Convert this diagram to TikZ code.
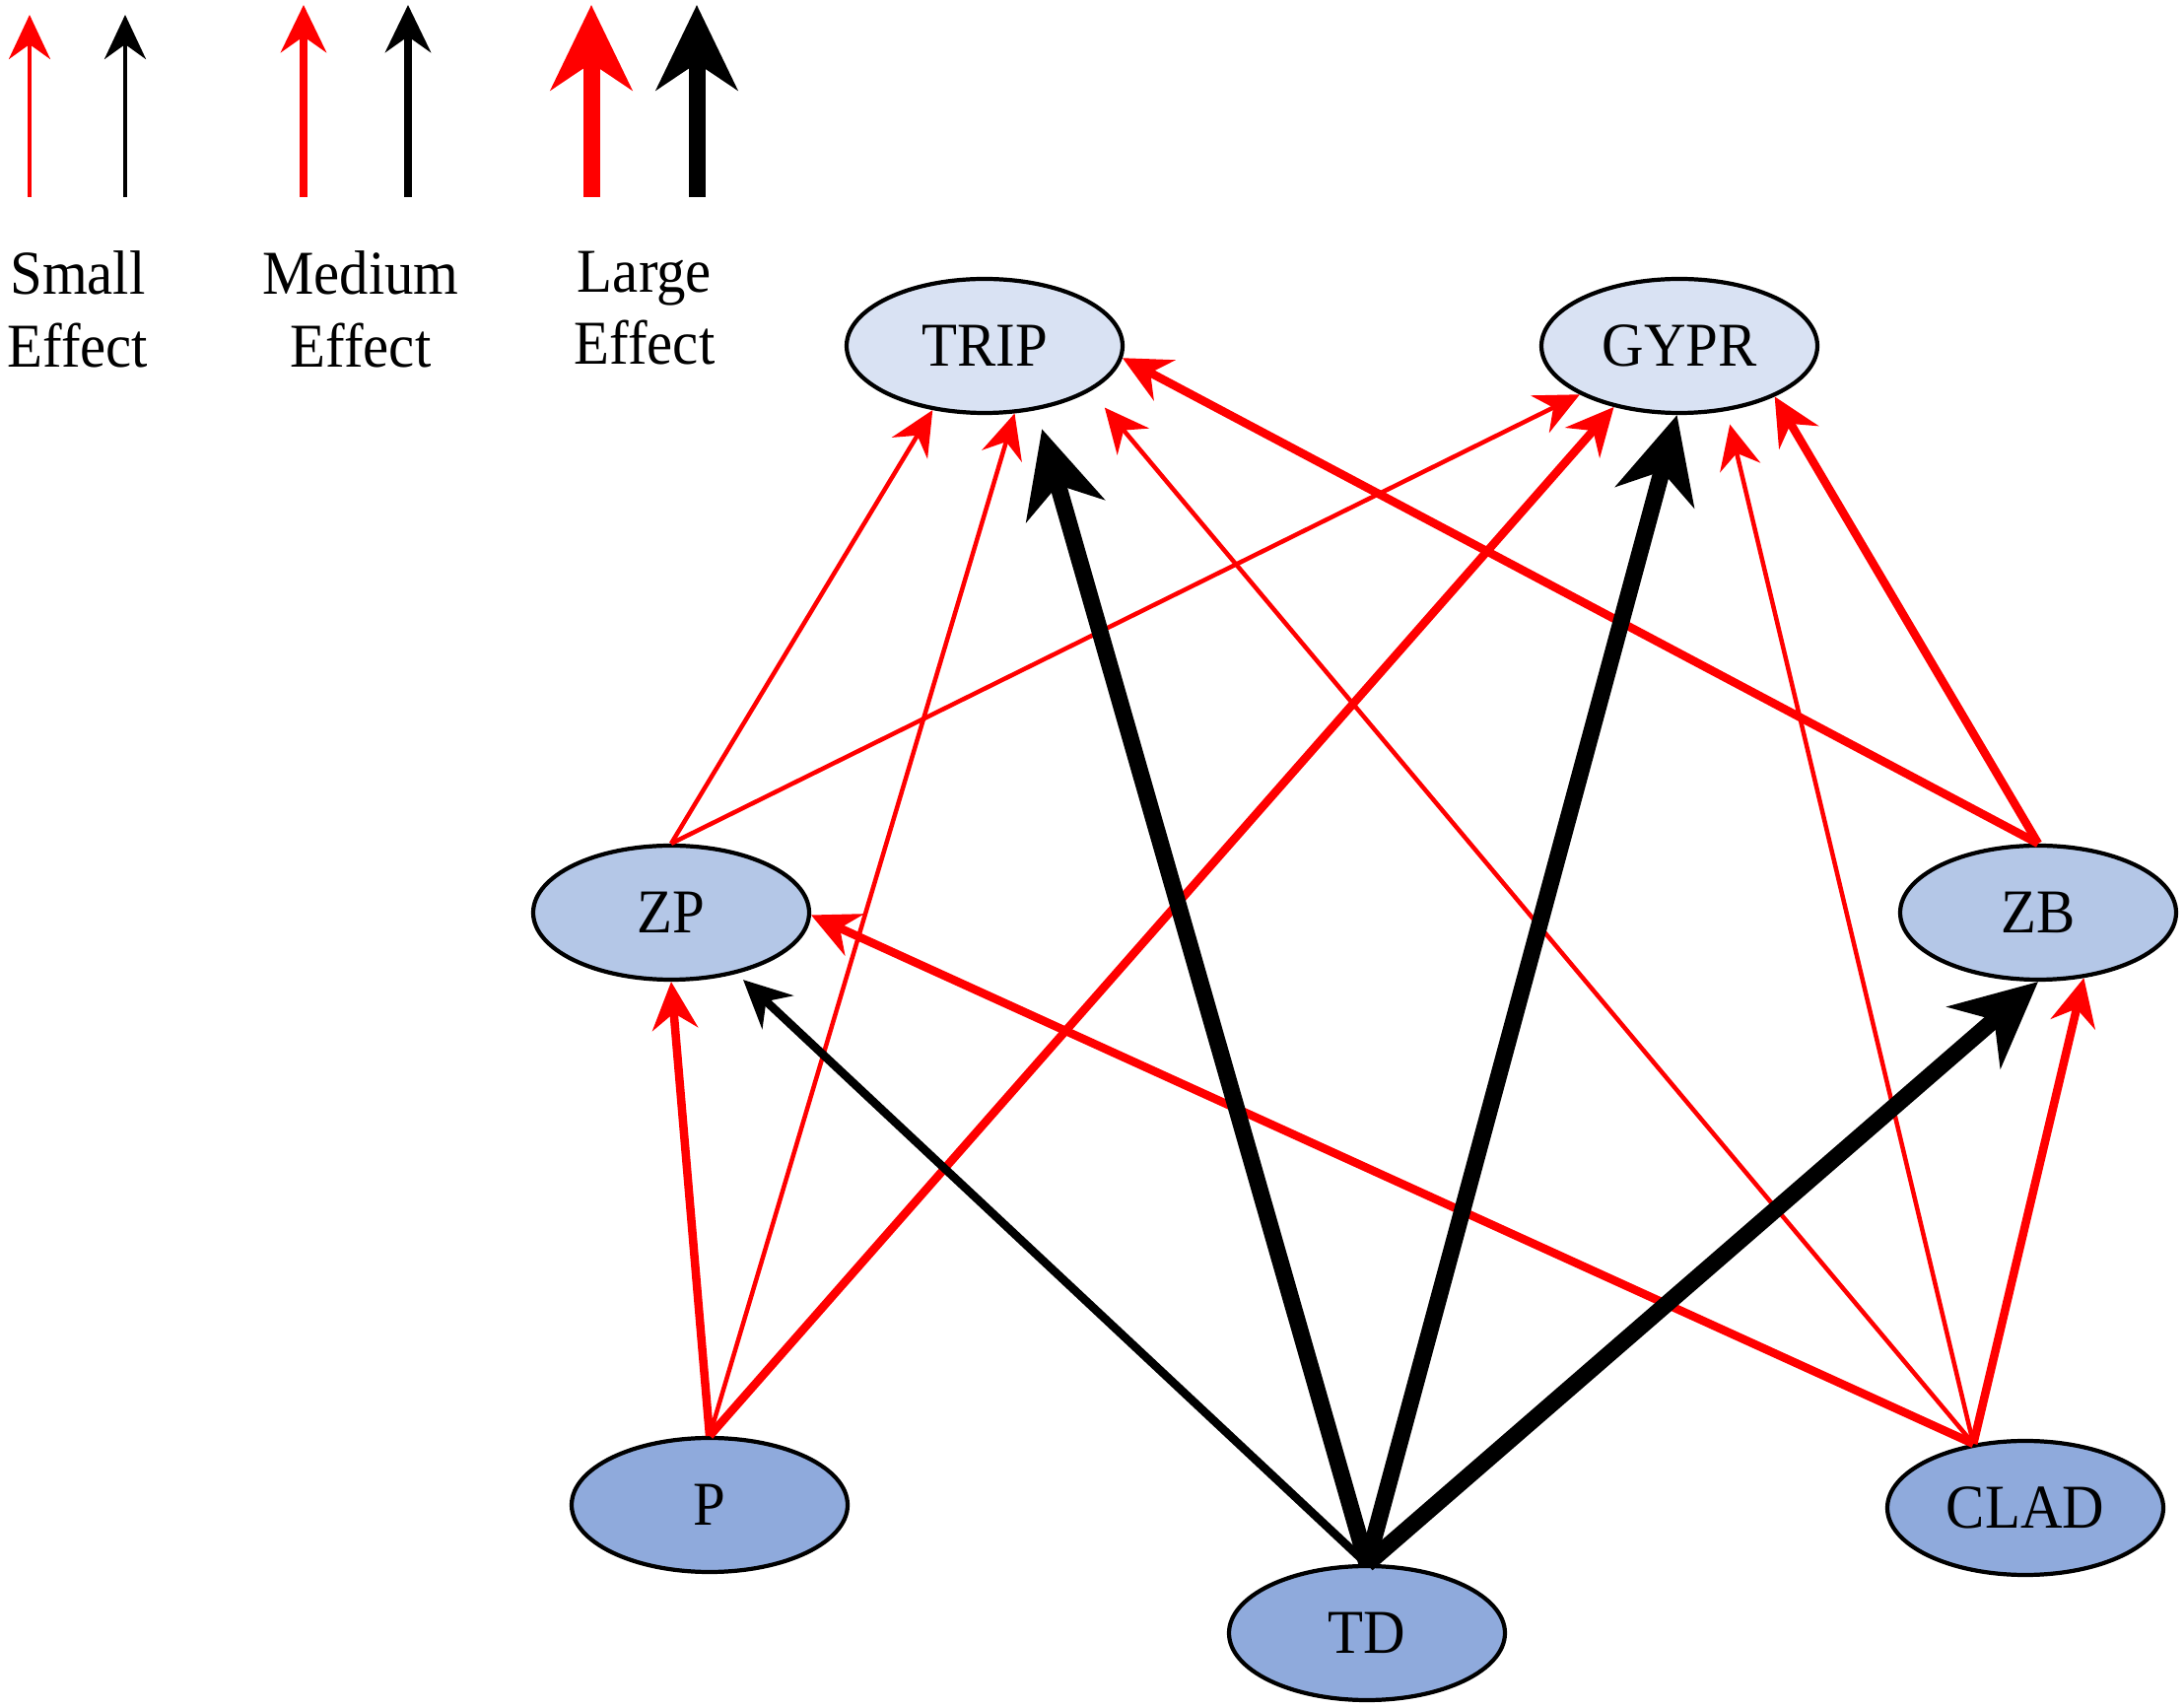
\documentclass[tikz,border=0pt]{standalone}
\usepackage{fontspec}
\setmainfont{Liberation Serif}[FakeStretch=0.93]
\usetikzlibrary{arrows.meta}
\usetikzlibrary{shapes.geometric}

\definecolor{nodetop}{RGB}{217,226,243}
\definecolor{nodemid}{RGB}{180,199,231}
\definecolor{nodebot}{RGB}{143,170,220}

\begin{document}
\begin{tikzpicture}[
    font=\fontsize{18}{21}\selectfont,
    var/.style={ellipse, draw, line width=1.2pt, minimum width=2.8cm,
      minimum height=1.36cm, inner sep=0pt},
    effsmall/.style={line width=0.045cm,
      -{Stealth[length=0.45cm,width=0.42cm,inset=0.15cm]}},
    effmedium/.style={line width=0.085cm,
      -{Stealth[length=0.48cm,width=0.46cm,inset=0.16cm]}},
    efflarge/.style={line width=0.17cm,
      -{Stealth[length=0.86cm,width=0.82cm,inset=0.27cm]}},
    legtext/.style={anchor=north, align=center, inner sep=0pt}]
    \useasboundingbox (0,0) rectangle (22.16,-17.33);

    % legend
    \coordinate (sr0) at (0.30,-2.00); \coordinate (sr1) at (0.30,-0.15);
    \coordinate (sb0) at (1.27,-2.00); \coordinate (sb1) at (1.27,-0.15);
    \coordinate (mr0) at (3.08,-2.00); \coordinate (mr1) at (3.08,-0.05);
    \coordinate (mb0) at (4.14,-2.00); \coordinate (mb1) at (4.14,-0.05);
    \coordinate (lr0) at (6.00,-2.00); \coordinate (lr1) at (6.00,-0.05);
    \coordinate (lb0) at (7.07,-2.00); \coordinate (lb1) at (7.07,-0.05);
    \draw [effsmall,red] (sr0) -- (sr1);
    \draw [effsmall] (sb0) -- (sb1);
    \draw [effmedium,red] (mr0) -- (mr1);
    \draw [effmedium] (mb0) -- (mb1);
    \draw [efflarge,red] (lr0) -- (lr1);
    \draw [efflarge] (lb0) -- (lb1);
    \path (0.79,-2.54) node [legtext] (legsmall) {Small\\Effect};
    \path (3.66,-2.54) node [legtext] (legmedium) {Medium\\Effect};
    \path (6.54,-2.54) node [legtext] (leglarge) {Large\\Effect};

    % variables
    \path (9.99, -3.51) node [var, fill=nodetop] (trip) {TRIP};
    \path (17.04, -3.51) node [var, fill=nodetop] (gypr) {GYPR};
    \path (6.81, -9.26) node [var, fill=nodemid] (zp) {ZP};
    \path (20.68, -9.26) node [var, fill=nodemid] (zb) {ZB};
    \path (7.20, -15.27) node [var, fill=nodebot] (p) {P};
    \path (13.87, -16.57) node [var, fill=nodebot] (td) {TD};
    \path (20.55, -15.30) node [var, fill=nodebot] (clad) {CLAD};

    % effects
    \draw [effmedium,red] (p.north) -- (zp.south);
    \draw [effsmall,red] (p.north) -- (trip.294);
    \draw [effmedium,red] (p.north) -- (gypr.223);
    \draw [effmedium,red] (clad.129) -- (zp.359);
    \draw [effsmall,red,shorten >=0.22cm] (clad.129) -- (trip.337);
    \draw [effsmall,red,shorten >=0.14cm] (clad.129) -- (gypr.306);
    \draw [effmedium,red] (clad.129) -- (zb.305);
    \draw [effsmall,red] (zp.north) -- (trip.231);
    \draw [effsmall,red] (zp.north) -- (gypr.206);
    \draw [effmedium,red] (zb.north) -- (trip.355);
    \draw [effmedium,red] (zb.north) -- (gypr.332);
    \draw [effmedium,shorten >=0.09cm] (td.north) -- (zp.317);
    \draw [efflarge,shorten >=0.2cm] (td.north) -- (trip.309);
    \draw [efflarge] (td.north) -- (gypr.268);
    \draw [efflarge] (td.north) -- (zb.south);
\end{tikzpicture}
\end{document}
